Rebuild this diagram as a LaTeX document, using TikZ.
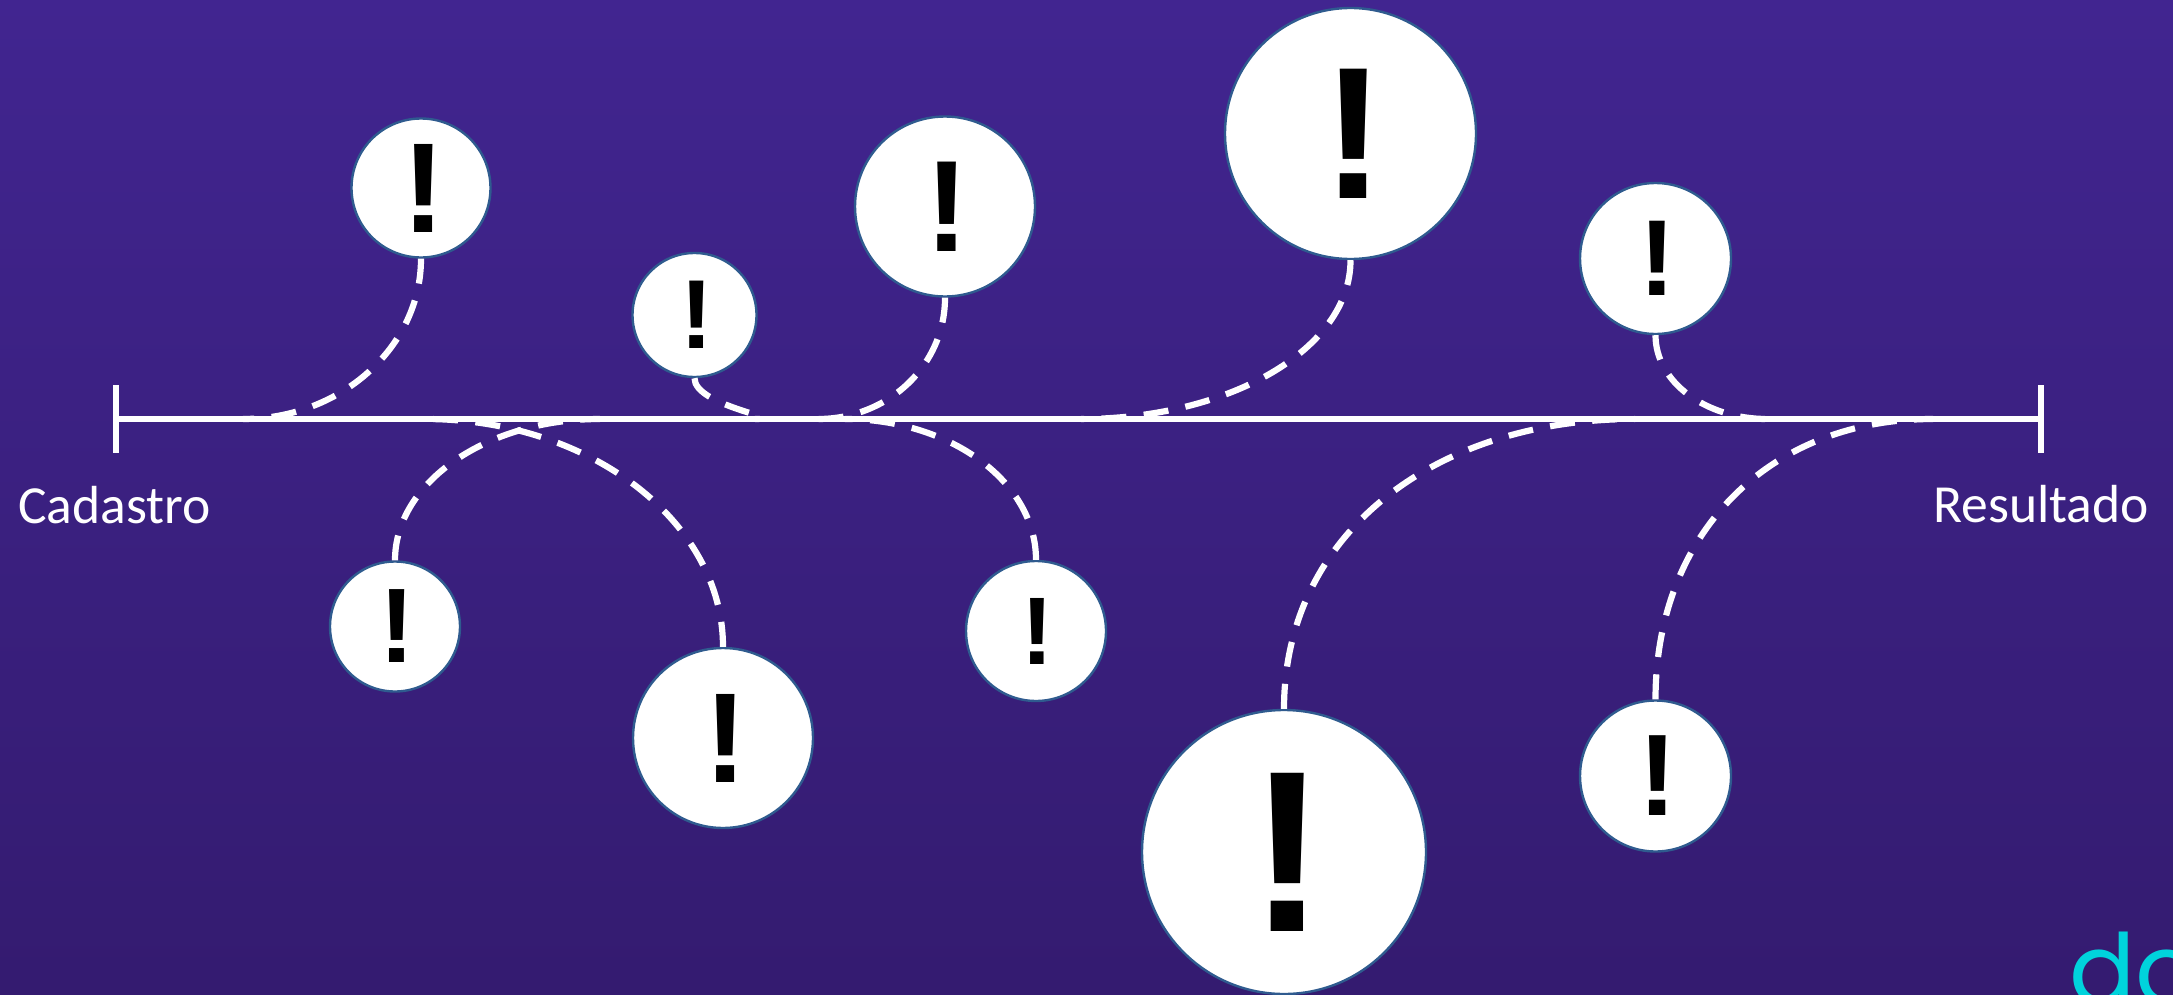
\documentclass[tikz,border=0pt]{standalone}
\usepackage{fontspec}
\setmainfont{Carlito}
\newfontfamily\logofont{Poppins}
\newfontfamily\bangfont{Liberation Sans}
\newcommand\bang[1]{\bangfont\fontsize{#1}{#1}\selectfont\bfseries\kern.037em !}
\definecolor{bgtop}{HTML}{412590}
\definecolor{bgbot}{HTML}{341B70}
\definecolor{ringblue}{HTML}{2F5B8F}
\definecolor{logocyan}{HTML}{00D3DC}
\tikzset{
  x=.5pt,y=-.5pt,
  alertnode/.style={circle,draw=ringblue,fill=white,line width=1.2pt,inner sep=0pt,minimum size=#1 pt,text=black},
  dashcurve/.style={draw=white,line width=3.1pt,dash pattern=on 12.5pt off 8.7pt},
  axisline/.style={draw=white,line width=3.1pt},
  caption/.style={text=white,inner sep=0pt,font=\fontsize{26.8}{27}\selectfont}
}
\begin{document}
\begin{tikzpicture}
\useasboundingbox (0,0) rectangle (2173,995);
\shade[top color=bgtop,bottom color=bgbot] (0,0) rectangle (2173,995);
% axis
\coordinate (L) at (116,419);
\coordinate (R) at (2041,419);
\coordinate (Lt) at (116,385);
\coordinate (Lb) at (116,453);
\coordinate (Rt) at (2041,385);
\coordinate (Rb) at (2041,453);
\draw[axisline] (L) -- (R);
\draw[axisline] (Lt) -- (Lb);
\draw[axisline] (Rt) -- (Rb);
% circles
\path
 node[alertnode=69.5] (a) at (421,188) {\bang{64}}
 node[alertnode=62] (b) at (694.5,315) {\bang{49}}
 node[alertnode=90] (c) at (945,206.5) {\bang{65}}
 node[alertnode=125.5] (d) at (1350.5,133.5) {\bang{94}}
 node[alertnode=75.5] (e) at (1655.5,258.5) {\bang{54}}
 node[alertnode=65] (f) at (395,626.5) {\bang{53}}
 node[alertnode=90] (g) at (723,738) {\bang{64}}
 node[alertnode=70] (h) at (1036,631) {\bang{48}}
 node[alertnode=142] (i) at (1284,852) {\bang{115}}
 node[alertnode=75.5] (j) at (1655.5,776) {\bang{58}};
% connector ends on the axis
\coordinate (ea) at (243,419);
\coordinate (eb) at (755,419);
\coordinate (ec) at (818,419);
\coordinate (ed) at (1081,419);
\coordinate (ee) at (1767,419);
\coordinate (ef) at (600,419);
\coordinate (eg) at (425,419);
\coordinate (eh) at (845,419);
\coordinate (ei) at (1635,419);
\coordinate (ej) at (1933,419);
\draw[dashcurve] (a.south) .. controls +(0,88) and +(98,0) .. (ea);
\draw[dashcurve] (b.south) .. controls +(0,28) and +(35,0) .. (eb);
\draw[dashcurve] (c.south) .. controls +(0,68) and +(70,0) .. (ec);
\draw[dashcurve] (d.south) .. controls +(0,89) and +(148,0) .. (ed);
\draw[dashcurve] (e.south) .. controls +(0,47) and +(-61,0) .. (ee);
\draw[dashcurve] (f.north) .. controls +(0,-78) and +(-113,0) .. (ef);
\draw[dashcurve] (g.north) .. controls +(0,-125) and +(165,0) .. (eg);
\draw[dashcurve] (h.north) .. controls +(0,-78) and +(105,0) .. (eh);
\draw[dashcurve] (i.north) .. controls +(0,-175) and +(-200,0) .. (ei);
\draw[dashcurve] (j.north) .. controls +(0,-165) and +(-165,0) .. (ej);
% labels
\node[caption,anchor=base west] (cad) at (18,523) {Cadastro};
\node[caption,anchor=base west] (res) at (1933,522) {Resultado};
\node[anchor=base west,inner sep=0pt,text=logocyan,font=\logofont\fontsize{49}{49}\selectfont] (logo) at (2069,1004) {do};
\end{tikzpicture}
\end{document}
